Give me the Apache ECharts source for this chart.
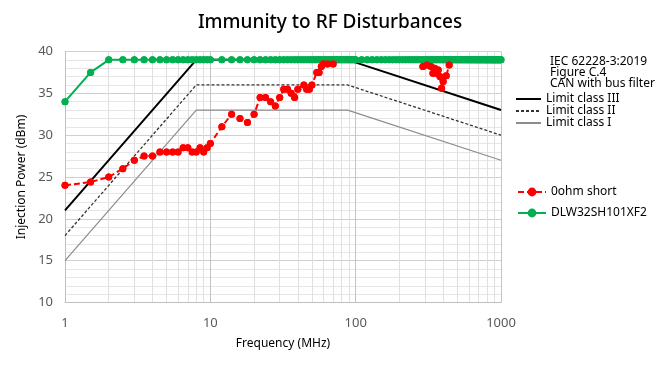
<!DOCTYPE html>
<html><head><meta charset="utf-8">
<script src="https://cdn.jsdelivr.net/npm/echarts@6/dist/echarts.min.js"></script>
<style>html,body{margin:0;padding:0;background:#fff}#c{width:660px;height:368px}</style>
</head><body><div id="c"></div>
<script>
// ---- data ----
const limitFreq = [1, 8, 88, 1000];
const limitClassIII = [21, 39, 39, 33];
const limitClassII = [18, 36, 36, 30];
const limitClassI = [15, 33, 33, 27];

const redFreq = [1,1.5,2,2.5,3,3.5,4,4.5,5,5.5,6,6.5,7,7.5,8,8.5,9,9.5,10,
  12,14,16,18,20,22,24,26,28,30,32,34,36,38,40,44,46,48,50,54,56,58,60,64,70,
  80,
  290,310,330,340,350,360,370,380,390,400,420,440];
const redPower = [24,24.4,25,26,27,27.5,27.5,28,28,28,28,28.5,28.5,28,28,28.5,28,28.5,29,
  31,32.5,32,31.5,32.5,34.5,34.5,34,33.5,34.5,35.5,35.5,35,34.5,35.5,36,35.5,35.5,36,37.5,37.5,38.2,38.5,38.5,38.5,
  null,
  38.2,38.4,38.2,37.4,38,37.4,37.8,37,35.6,36.4,37.1,38.4];

const greenFreq = [1,1.5,2,2.5,3,3.5,4,4.5,5,5.5,6,6.5,7,7.5,8,8.5,9,9.5,10,
  12,14,16,18,20,22,24,26,28,30,32,34,36,38,40,42,44,46,48,50,52,54,56,58,60,62,64,66,68,70,72,74,76,78,80,82,84,86,88,90,92,94,96,98,100,
  110,120,130,140,150,160,170,180,190,200,210,220,230,240,250,260,270,280,290,300,
  310,320,330,340,350,360,370,380,390,400,410,420,430,440,450,460,470,480,490,500,
  510,520,530,540,550,560,570,580,590,600,610,620,630,640,650,660,670,680,690,700,
  710,720,730,740,750,760,770,780,790,800,810,820,830,840,850,860,870,880,890,900,
  910,920,930,940,950,960,970,980,990,1000];
const greenPower = [34,37.5,39,39,39,39,39,39,39,39,39,39,39,39,39,39,39,39,39,
  39,39,39,39,39,39,39,39,39,39,39,39,39,39,39,39,39,39,39,39,39,39,39,39,39,39,39,39,39,39,39,39,39,39,39,39,39,39,39,39,39,39,39,39,39,
  39,39,39,39,39,39,39,39,39,39,39,39,39,39,39,39,39,39,39,39,
  39,39,39,39,39,39,39,39,39,39,39,39,39,39,39,39,39,39,39,39,
  39,39,39,39,39,39,39,39,39,39,39,39,39,39,39,39,39,39,39,39,
  39,39,39,39,39,39,39,39,39,39,39,39,39,39,39,39,39,39,39,39,
  39,39,39,39,39,39,39,39,39,39];

const xTicks = [1, 10, 100, 1000];
const minorFreqs = [2,3,4,5,6,7,8,9,20,30,40,50,60,70,80,90,200,300,400,500,600,700,800,900];
const noteLines = ['IEC 62228-3:2019', 'Figure C.4', 'CAN with bus filter'];

// ---- chart ----
const zip = (a, b) => a.map((v, i) => [v, b[i]]);
const FONT = 'Noto Sans';
const RED = '#ff0000', GREEN = '#00b050';
const chart = echarts.init(document.getElementById('c'), null, {renderer: 'canvas'});
chart.setOption({
  animation: false,
  textStyle: {fontFamily: FONT},
  title: {
    text: 'Immunity to RF Disturbances', left: 'center', top: 8,
    textStyle: {fontFamily: FONT, fontSize: 19, fontWeight: 500, color: '#000'}
  },
  grid: {left: 65, right: 159, top: 51.5, bottom: 65.5, containLabel: false},
  xAxis: {
    type: 'log', logBase: 10, min: xTicks[0], max: xTicks[xTicks.length - 1],
    name: 'Frequency (MHz)', nameLocation: 'middle', nameGap: 35,
    nameTextStyle: {fontFamily: FONT, fontSize: 12, color: '#000'},
    axisLine: {show: true, lineStyle: {color: '#bfbfbf', width: 1}},
    axisTick: {show: false},
    axisLabel: {color: '#595959', fontSize: 13, margin: 14, fontFamily: FONT, formatter: v => String(v)},
    splitLine: {show: true, lineStyle: {color: '#c4c4c4', width: 1}}
  },
  yAxis: {
    type: 'value', min: 10, max: 40, interval: 5,
    name: 'Injection Power (dBm)', nameLocation: 'middle', nameGap: 31,
    nameTextStyle: {fontFamily: FONT, fontSize: 12, color: '#000'},
    axisLine: {show: true, lineStyle: {color: '#bfbfbf', width: 1}},
    axisTick: {show: false},
    axisLabel: {color: '#595959', fontSize: 13, margin: 12, fontFamily: FONT},
    splitLine: {show: true, lineStyle: {color: '#cfcfcf', width: 1}},
    minorTick: {show: false, splitNumber: 5},
    minorSplitLine: {show: true, lineStyle: {color: '#e6e6e6', width: 1}}
  },
  legend: [
    {
      data: ['Limit class III', 'Limit class II', 'Limit class I'],
      orient: 'vertical', left: 515, top: 93, itemWidth: 25, itemHeight: 11,
      itemGap: 0, itemTextGap: 13, padding: 0,
      itemStyle: {opacity: 0},
      textStyle: {fontFamily: FONT, fontSize: 12, color: '#000', lineHeight: 11}
    },
    {
      data: ['0ohm short', 'DLW32SH101XF2'],
      orient: 'vertical', left: 517, top: 186, itemWidth: 28, itemHeight: 11,
      itemGap: 9, itemTextGap: 5, padding: 0,
      textStyle: {fontFamily: FONT, fontSize: 12, color: '#000', lineHeight: 11}
    }
  ],
  graphic: [{
    type: 'text', left: 550, top: 56,
    style: {text: noteLines.join('\n'), fontFamily: FONT, fontSize: 12, lineHeight: 11, fill: '#000'}
  }],
  series: [
    {
      name: 'minor-grid', type: 'line', data: [], silent: true, z: 0,
      markLine: {
        silent: true, z: 0, zlevel: 0, symbol: ['none', 'none'], label: {show: false},
        lineStyle: {color: '#e0e0e0', width: 1, type: 'solid'},
        data: minorFreqs.map(f => ({xAxis: f}))
      }
    },
    {
      name: 'Limit class I', type: 'line', data: zip(limitFreq, limitClassI),
      symbol: 'none', lineStyle: {color: '#8c8c8c', width: 1.2}, itemStyle: {color: '#8c8c8c'}, z: 2
    },
    {
      name: 'Limit class II', type: 'line', data: zip(limitFreq, limitClassII),
      symbol: 'none', lineStyle: {color: '#333', width: 1.3, type: [3, 2]}, itemStyle: {color: '#333'}, z: 2
    },
    {
      name: 'Limit class III', type: 'line', data: zip(limitFreq, limitClassIII),
      symbol: 'none', lineStyle: {color: '#000', width: 2}, itemStyle: {color: '#000'}, z: 3
    },
    {
      name: 'DLW32SH101XF2', type: 'line', data: zip(greenFreq, greenPower),
      symbol: 'circle', symbolSize: 7, showAllSymbol: true,
      lineStyle: {color: GREEN, width: 2}, itemStyle: {color: GREEN}, z: 6
    },
    {
      name: 'DLW32SH101XF2', type: 'scatter', data: zip(greenFreq, greenPower),
      symbol: 'circle', symbolSize: 7, itemStyle: {color: GREEN, opacity: 1}, z: 6
    },
    {
      name: '0ohm short', type: 'line', data: zip(redFreq, redPower), connectNulls: false,
      symbol: 'circle', symbolSize: 7, showAllSymbol: true,
      lineStyle: {color: RED, width: 2, type: [6, 3]}, itemStyle: {color: RED}, z: 7
    },
    {
      name: '0ohm short', type: 'scatter', data: zip(redFreq, redPower),
      symbol: 'circle', symbolSize: 7, itemStyle: {color: RED, opacity: 1}, z: 7
    }
  ]
});
</script></body></html>
